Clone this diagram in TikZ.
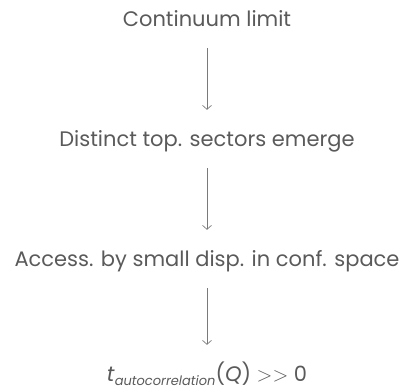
\documentclass[tikz,border=0pt]{standalone}
\usepackage{fontspec}
\setmainfont{Poppins}
\usepackage{tikz}
\usetikzlibrary{positioning, arrows.meta}
\definecolor{textgray}{HTML}{5A5A5A}
\definecolor{arrowgray}{HTML}{7A7A7A}
\tikzstyle{arrow} = [-{Straight Barb[length=4pt, width=9pt]}, draw=arrowgray, line width=0.7pt,
    shorten <=18pt, shorten >=23pt]
\tikzstyle{stage} = [text=textgray, font=\fontsize{21}{25}\selectfont, inner sep=0pt,
    text height=13pt, text depth=4pt]

\begin{document}
\begin{tikzpicture}[auto, node distance=120pt]
     \useasboundingbox (0,0) rectangle (411pt,-389pt);
     \node [stage] (continuum) at (207pt,-21.5pt) {Continuum limit};
     \node [stage, below of=continuum] (sectors) {Distinct top. sectors emerge};
     \draw [arrow] (continuum) -- (sectors);

     \node [stage, below of=sectors] (access) {Access. by small disp. in conf. space};
     \draw [arrow] (sectors) -- (access);

     \node [stage, below of=access, yshift=5pt] (autocorr)
        {\textit{t}\raisebox{-0.4ex}{\fontsize{13}{15}\selectfont\itshape autocorrelation}(\textit{Q})\ $>>$ 0};
     \draw [arrow] (access) -- (autocorr);
\end{tikzpicture}
\end{document}
